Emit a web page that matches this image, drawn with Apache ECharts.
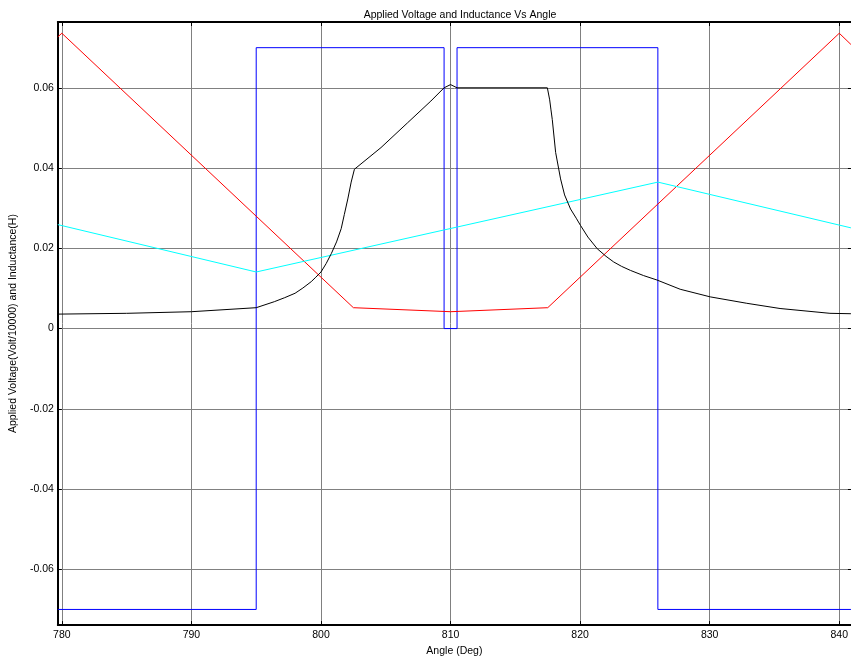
<!DOCTYPE html>
<html>
<head>
<meta charset="utf-8">
<script src="https://cdn.jsdelivr.net/npm/echarts@6/dist/echarts.min.js"></script>
<style>
html,body{margin:0;padding:0;background:#fff;}
#chart{width:851px;height:662px;}
</style>
</head>
<body>
<div id="chart"></div>
<script>
// ---- Data ----
const xTicks = [780, 790, 800, 810, 820, 830, 840];
const yTicks = [-0.06, -0.04, -0.02, 0, 0.02, 0.04, 0.06];

// Applied voltage (blue square wave)
const blueAngle = [779.69, 795, 795, 809.5, 809.5, 810.5, 810.5, 826, 826, 840.9];
const blueValue = [-0.07, -0.07, 0.07, 0.07, 0, 0, 0.07, 0.07, -0.07, -0.07];

// Red
const redAngle = [779.69, 780, 802.5, 810, 817.5, 840, 840.9];
const redValue = [0.0727, 0.0736, 0.0052, 0.0042, 0.0052, 0.0736, 0.0708];

// Cyan
const cyanAngle = [779.69, 795, 826, 840.9];
const cyanValue = [0.0259, 0.0141, 0.0365, 0.0251];

// Black
const blackAngle = [779.69, 785, 790, 795, 796.4, 797.2, 798, 798.6, 799.25, 799.6, 800, 800.4, 800.8, 801.2,
  801.56, 801.8, 802.07, 802.33, 802.58, 804.63, 806.69, 808.48, 809.5, 810.0, 810.5, 817.47, 817.65,
  817.75, 817.85, 818.11, 818.49, 818.8, 819.26, 819.7, 820.03, 820.6, 821.32, 822.0, 822.59, 823.2,
  823.88, 824.9, 825.93, 827.72, 830.04, 832.86, 835.43, 839.28, 840.9];
const blackValue = [0.0036, 0.0038, 0.0042, 0.0052, 0.0067, 0.0077, 0.0088, 0.0101, 0.0117, 0.0128, 0.0141, 0.0162, 0.0187, 0.0216,
  0.0249, 0.0284, 0.0323, 0.0365, 0.0397, 0.0451, 0.0513, 0.0567, 0.0600, 0.0608, 0.0600, 0.0600, 0.0570,
  0.0545, 0.0521, 0.0439, 0.0373, 0.0333, 0.0298, 0.0275, 0.0257, 0.0228, 0.0199, 0.0180, 0.0166, 0.0155,
  0.0145, 0.0132, 0.0121, 0.0098, 0.0079, 0.0063, 0.0050, 0.0038, 0.0037];

const xMin = 779.69, xMax = 840.9;
const yMin = -0.0739, yMax = 0.0764;

function pairs(a, b) { return a.map((v, i) => [v, b[i]]); }

const font = 'Liberation Sans, Arial, Helvetica, sans-serif';
const fs = 10.5;
const chart = echarts.init(document.getElementById('chart'), null, {renderer: 'canvas'});

const lineSeries = (name, a, b, color) => ({
  name, type: 'line', data: pairs(a, b), xAxisIndex: 0, yAxisIndex: 0,
  showSymbol: false, symbol: 'none', animation: false,
  lineStyle: {color, width: 1}, itemStyle: {color}
});

chart.setOption({
  animation: false,
  backgroundColor: '#fff',
  title: {
    text: 'Applied Voltage and Inductance Vs Angle',
    left: 455, textAlign: 'center', top: 5,
    textStyle: {fontFamily: font, fontSize: fs, fontWeight: 'normal', color: '#000'}
  },
  grid: {left: 56, top: 22, width: 795, height: 606, containLabel: false},
  xAxis: [{
    type: 'value', min: xMin, max: xMax, position: 'bottom',
    name: 'Angle (Deg)', nameLocation: 'middle', nameGap: 20,
    nameTextStyle: {fontFamily: font, fontSize: fs, color: '#000'},
    axisLine: {show: true, onZero: false, lineStyle: {color: '#000', width: 2}},
    axisTick: {show: true, inside: true, length: 4, customValues: xTicks, lineStyle: {color: '#000', width: 1}},
    axisLabel: {show: true, customValues: xTicks, margin: 5, fontFamily: font, fontSize: fs, color: '#000',
      formatter: v => String(Math.round(v))},
    splitLine: {show: true, lineStyle: {color: '#808080', width: 1}}
  }, {
    type: 'value', min: xMin, max: xMax, position: 'top',
    axisLine: {show: true, onZero: false, lineStyle: {color: '#000', width: 2}},
    axisTick: {show: true, inside: true, length: 4, customValues: xTicks, lineStyle: {color: '#000', width: 1}},
    axisLabel: {show: false},
    splitLine: {show: false}
  }],
  yAxis: [{
    type: 'value', min: yMin, max: yMax, position: 'left',
    name: 'Applied Voltage(Volt/10000) and Inductance(H)', nameLocation: 'middle', nameGap: 32,
    nameTextStyle: {fontFamily: font, fontSize: fs, color: '#000'},
    axisLine: {show: true, onZero: false, lineStyle: {color: '#000', width: 2}},
    axisTick: {show: true, inside: true, length: 4, customValues: yTicks, lineStyle: {color: '#000', width: 1}},
    axisLabel: {show: true, customValues: yTicks, margin: 4, fontFamily: font, fontSize: fs, color: '#000',
      formatter: v => String(Math.round(v * 100) / 100)},
    splitLine: {show: true, lineStyle: {color: '#808080', width: 1}}
  }, {
    type: 'value', min: yMin, max: yMax, position: 'right',
    axisLine: {show: false, onZero: false},
    axisTick: {show: true, inside: true, length: 3, customValues: yTicks, lineStyle: {color: '#000', width: 1}},
    axisLabel: {show: false},
    splitLine: {show: false}
  }],
  series: [
    lineSeries('Voltage', blueAngle, blueValue, '#0000ff'),
    lineSeries('Red', redAngle, redValue, '#ff0000'),
    lineSeries('Cyan', cyanAngle, cyanValue, '#00ffff'),
    lineSeries('Inductance', blackAngle, blackValue, '#000000')
  ]
});
</script>
</body>
</html>
